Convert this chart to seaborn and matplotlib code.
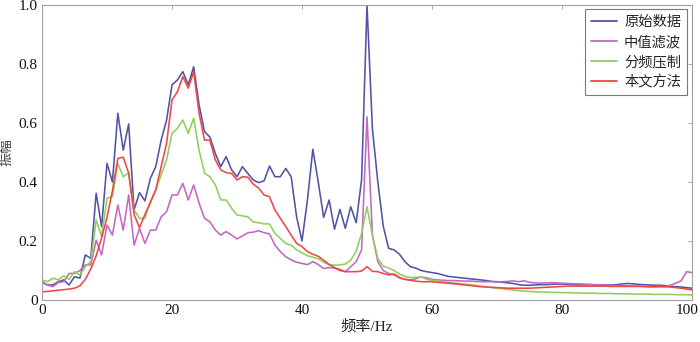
import numpy as np
import pandas as pd
import matplotlib
matplotlib.use("Agg")
import matplotlib.pyplot as plt
import matplotlib.transforms as mtransforms
import seaborn as sns

# frequency axis: 121 samples from 0 to 100 Hz
freq = np.linspace(0, 100, 121)

raw_data = [  # 原始数据
    .062, .051, .051, .062, .068, .051, .079, .074, .153, .141,
    .362, .249, .463, .400, .633, .508, .597, .305, .364, .336,
    .412, .452, .542, .610, .729, .746, .774, .729, .791, .661,
    .571, .552, .497, .452, .486, .441, .418, .452, .429, .407,
    .398, .404, .454, .418, .418, .446, .418, .282, .200, .339,
    .511, .400, .280, .339, .240, .307, .243, .316, .262, .407,
    1.00, .580, .400, .250, .175, .170, .155, .130, .113, .108,
    .100, .096, .093, .090, .085, .080, .078, .076, .074, .072,
    .070, .068, .066, .063, .062, .060, .058, .056, .052, .050,
    .050, .051, .052, .052, .053, .054, .054, .053, .052, .051,
    .051, .052, .051, .050, .051, .051, .052, .054, .056, .055,
    .053, .052, .051, .050, .050, .049, .047, .045, .044, .042, .040,
]

median_filter = [  # 中值滤波
    .059, .051, .045, .059, .062, .090, .090, .100, .119, .119,
    .203, .153, .254, .220, .322, .237, .356, .186, .243, .192,
    .237, .237, .282, .299, .356, .356, .395, .339, .390, .328,
    .277, .265, .237, .220, .232, .220, .207, .217, .228, .230,
    .235, .228, .224, .186, .164, .147, .136, .128, .124, .120,
    .130, .120, .107, .110, .108, .104, .096, .113, .130, .170,
    .621, .220, .130, .100, .090, .085, .075, .070, .068, .072,
    .078, .075, .070, .068, .067, .066, .066, .065, .064, .064,
    .063, .062, .062, .062, .061, .062, .063, .065, .062, .065,
    .060, .058, .057, .058, .059, .058, .057, .056, .055, .055,
    .054, .053, .052, .051, .051, .050, .049, .048, .048, .047,
    .047, .046, .045, .045, .046, .045, .050, .057, .065, .096, .093,
]

band_suppress = [  # 分频压制
    .068, .062, .074, .068, .082, .070, .096, .085, .113, .130,
    .271, .215, .345, .350, .463, .418, .430, .305, .277, .277,
    .333, .373, .424, .475, .565, .582, .610, .565, .616, .508,
    .430, .418, .390, .339, .339, .311, .288, .285, .282, .265,
    .262, .258, .258, .226, .209, .192, .186, .170, .160, .150,
    .145, .140, .128, .120, .118, .119, .122, .135, .165, .226,
    .316, .220, .140, .115, .108, .100, .088, .080, .076, .077,
    .078, .070, .067, .064, .062, .060, .058, .056, .054, .052,
    .050, .047, .045, .042, .040, .038, .036, .034, .032, .030,
    .029, .028, .027, .027, .026, .026, .025, .025, .024, .024,
    .023, .023, .023, .022, .022, .022, .021, .021, .021, .020,
    .020, .020, .020, .019, .019, .019, .019, .018, .018, .018, .017,
]

proposed = [  # 本文方法
    .028, .029, .031, .033, .035, .037, .040, .048, .070, .105,
    .150, .210, .280, .370, .480, .484, .430, .290, .245, .290,
    .330, .373, .452, .531, .678, .706, .757, .718, .774, .633,
    .542, .542, .475, .441, .432, .429, .407, .418, .416, .393,
    .379, .356, .350, .305, .277, .249, .220, .192, .181, .164,
    .155, .148, .135, .120, .110, .100, .096, .096, .096, .098,
    .113, .097, .096, .090, .085, .088, .076, .070, .067, .064,
    .062, .062, .062, .060, .058, .057, .055, .053, .051, .049,
    .047, .045, .044, .043, .042, .041, .040, .040, .040, .040,
    .040, .041, .042, .043, .044, .045, .046, .047, .047, .047,
    .047, .047, .047, .047, .047, .046, .046, .046, .046, .046,
    .046, .046, .045, .045, .045, .045, .044, .042, .040, .037, .034,
]

series_names = ["原始数据", "中值滤波", "分频压制", "本文方法"]
series_colors = ["#5252a8", "#c466c4", "#8fd05a", "#f04646"]
x_ticks = [0, 20, 40, 60, 80, 100]
y_ticks = [0, 0.2, 0.4, 0.6, 0.8, 1.0]
y_tick_labels = ["0", "0.2", "0.4", "0.6", "0.8", "1.0"]

df = pd.concat([
    pd.DataFrame({"freq": freq, "amp": vals, "method": name})
    for name, vals in zip(series_names, [raw_data, median_filter, band_suppress, proposed])
], ignore_index=True)

sns.set_theme(style="white")
plt.rcParams["font.family"] = ["Liberation Serif", "Noto Sans CJK SC", "DejaVu Sans"]

fig = plt.figure(figsize=(7.0, 3.42), dpi=100)
ax = fig.add_axes([42 / 700, 1 - 300 / 342, 650 / 700, 295 / 342])

sns.lineplot(data=df, x="freq", y="amp", hue="method", hue_order=series_names,
             palette=series_colors, linewidth=1.15, ax=ax, legend=False)

ax.set_xlim(0, 100)
ax.set_ylim(0, 1.0)
ax.set_xticks(x_ticks)
ax.set_xticklabels([str(t) for t in x_ticks])
ax.set_yticks(y_ticks)
ax.set_yticklabels(y_tick_labels)
ax.tick_params(axis="both", which="both", direction="in", length=3, width=0.6,
               color="#9a9a9a", labelsize=11, labelcolor="#111111",
               top=True, right=True, pad=3)
for s in ax.spines.values():
    s.set_color("#a0a0a0")
    s.set_linewidth(0.8)

# keep the last x tick label inside the figure
last_lbl = ax.get_xticklabels()[-1]
last_lbl.set_transform(last_lbl.get_transform() +
                       mtransforms.ScaledTranslation(-5 / 100, 0, fig.dpi_scale_trans))

ax.set_xlabel("频率/Hz", fontsize=11, labelpad=2, color="#222222",
              family=["Liberation Serif", "Noto Sans CJK SC"])
ax.set_ylabel("振幅", fontsize=10, labelpad=4, color="#444444",
              family=["Noto Sans CJK SC"])

handles = [plt.Line2D([], [], color=c, linewidth=1.3) for c in series_colors]
leg = ax.legend(handles, series_names, loc="upper right", bbox_to_anchor=(0.992, 0.985),
                borderaxespad=0, frameon=True, fancybox=False,
                edgecolor="#7a7a7a", framealpha=1, handlelength=1.8,
                handletextpad=0.5, labelspacing=0.42, borderpad=0.4,
                prop={"family": ["Noto Sans CJK SC"], "size": 10.3})
leg.get_frame().set_linewidth(0.8)

fig.savefig("out.png", dpi=100)
